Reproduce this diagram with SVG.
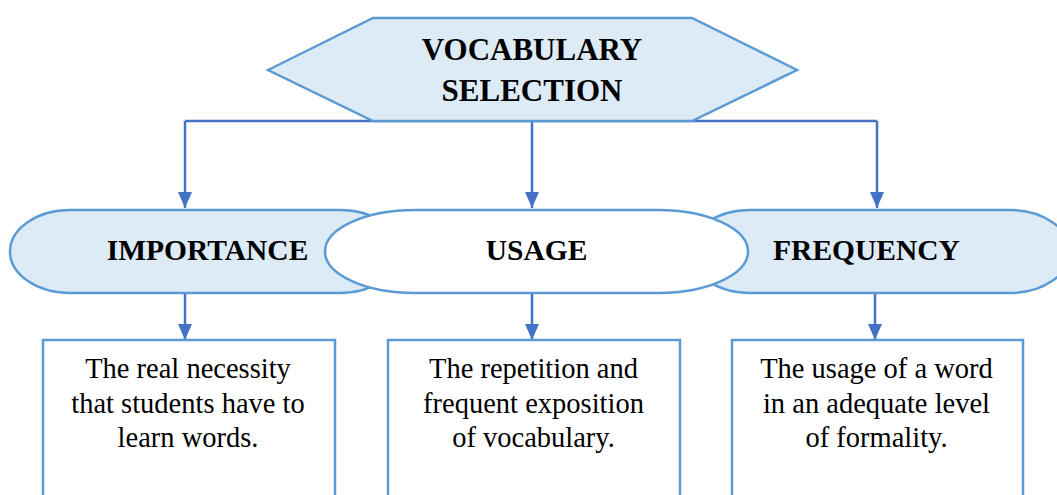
<svg xmlns="http://www.w3.org/2000/svg" width="1057" height="495" viewBox="0 0 1057 495">
<style>
.shape{stroke:#5B9BD5;stroke-width:2.5}
.blue{fill:#DDEBF7}
.white{fill:#FFFFFF}
.conn{stroke:#4472C4;stroke-width:2.5;fill:none}
.t{font-family:"Liberation Serif","Times New Roman",serif;fill:#000;text-anchor:middle}
.h{font-weight:bold;font-size:31px}
.b{font-weight:bold;font-size:29.5px}
.n{font-size:28.5px}
</style>
<defs>
<marker id="arr" viewBox="0 0 16 14" refX="16" refY="7" markerWidth="16" markerHeight="14" orient="auto" markerUnits="userSpaceOnUse">
<path d="M0,0 L16,7 L0,14 Z" fill="#4472C4"/>
</marker>
</defs>
<rect width="1057" height="495" fill="#FFFFFF"/>
<g id="connectors">
<path class="conn" d="M185,121 H877"/>
<path class="conn" d="M185,121 V208" marker-end="url(#arr)"/>
<path class="conn" d="M532,121 V208" marker-end="url(#arr)"/>
<path class="conn" d="M877,121 V208" marker-end="url(#arr)"/>
<path class="conn" d="M185,293 V340" marker-end="url(#arr)"/>
<path class="conn" d="M532,293 V340" marker-end="url(#arr)"/>
<path class="conn" d="M875,293 V340" marker-end="url(#arr)"/>
</g>
<g id="vocabulary-selection">
<polygon class="shape blue" points="268,70 373,18 692,18 797,70 692,121 373,121"/>
<text class="t h" x="532" y="60">VOCABULARY</text>
<text class="t h" x="532" y="101">SELECTION</text>
</g>
<g id="importance">
<rect class="shape blue" x="10" y="210" width="390" height="83" rx="60" ry="41.5"/>
</g>
<g id="frequency">
<rect class="shape blue" x="690" y="210" width="380" height="83" rx="60" ry="41.5"/>
</g>
<g id="usage">
<rect class="shape white" x="325" y="210" width="423" height="83" rx="90" ry="41.5"/>
<text class="t b" x="536.5" y="260">USAGE</text>
</g>
<g id="importance-label">
<text class="t b" x="207.5" y="260">IMPORTANCE</text>
</g>
<g id="frequency-label">
<text class="t b" x="866.5" y="260">FREQUENCY</text>
</g>
<g id="box-importance">
<rect class="shape white" x="43" y="340" width="292" height="170"/>
<text class="t n" x="188" y="378">The real necessity</text>
<text class="t n" x="188" y="413">that students have to</text>
<text class="t n" x="188" y="447">learn words.</text>
</g>
<g id="box-usage">
<rect class="shape white" x="388" y="340" width="292" height="170"/>
<text class="t n" x="533.5" y="378">The repetition and</text>
<text class="t n" x="533.5" y="413">frequent exposition</text>
<text class="t n" x="533.5" y="447">of vocabulary.</text>
</g>
<g id="box-frequency">
<rect class="shape white" x="732" y="340" width="291" height="170"/>
<text class="t n" x="876.5" y="378">The usage of a word</text>
<text class="t n" x="876.5" y="413">in an adequate level</text>
<text class="t n" x="876.5" y="447">of formality.</text>
</g>
</svg>
